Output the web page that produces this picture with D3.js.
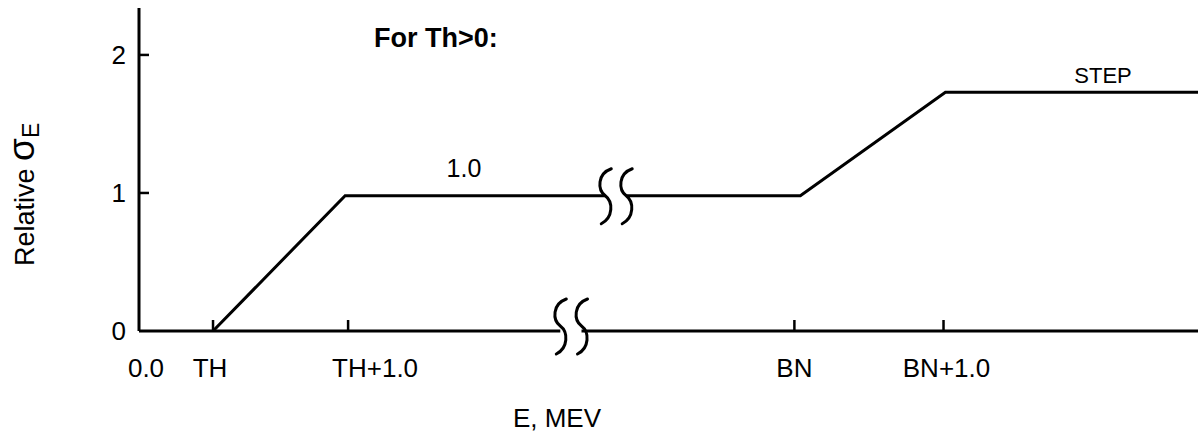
<!DOCTYPE html>
<html>
<head>
<meta charset="utf-8">
<script src="https://cdn.jsdelivr.net/npm/d3@7"></script>
<style>
  html, body { margin: 0; padding: 0; background: #fff; }
  svg { display: block; }
  text { font-family: "Liberation Sans", Arial, Helvetica, sans-serif; fill: #000; }
</style>
</head>
<body>
<svg id="chart" width="1198" height="434"></svg>
<script>
// ---- data (schematic energy units) ----
const xTickLabels = ["0.0", "TH", "TH+1.0", "BN", "BN+1.0"];
const xTickValues = [0, 0.548, 1.548, 4.852, 5.956];
const yTickValues = [0, 1, 2];
const seriesX = [0.548, 1.526, 4.896, 5.97, 7.84];
const seriesY = [0, 0.98, 0.98, 1.73, 1.73];
const axisBreak = [3.119, 3.276];     // break on the energy axis
const seriesBreak = [3.452, 3.607];   // break on the 1.0 plateau
const xDomain = [0, 7.84];
const yDomain = [0, 2.34];

const svg = d3.select("#chart");
const x = d3.scaleLinear().domain(xDomain).range([139, 1198]);
const y = d3.scaleLinear().domain(yDomain).range([331, 8]);

const ink = "#000";
const sw = 3;

// S-shaped break symbol
function breakPath(cx, cy) {
  return `M${cx+6},${cy-27} C${cx-8},${cy-22} ${cx-8},${cy-6} ${cx},${cy} ` +
         `C${cx+8},${cy+6} ${cx+8},${cy+22} ${cx-4},${cy+28}`;
}

// y axis
svg.append("line")
  .attr("x1", x(0)).attr("x2", x(0))
  .attr("y1", y(yDomain[1])).attr("y2", y(0))
  .attr("stroke", ink).attr("stroke-width", sw);

// y ticks (inward) and labels
yTickValues.forEach(v => {
  if (v > 0) {
    svg.append("line")
      .attr("x1", x(0)).attr("x2", x(0) + 10)
      .attr("y1", y(v)).attr("y2", y(v))
      .attr("stroke", ink).attr("stroke-width", 2.5);
  }
  svg.append("text")
    .attr("x", x(0) - 13).attr("y", y(v)).attr("dy", "0.36em")
    .attr("text-anchor", "end").attr("font-size", 26)
    .text(d3.format("d")(v));
});

// x axis with break
svg.append("line")
  .attr("x1", x(0)).attr("x2", x(axisBreak[0]))
  .attr("y1", y(0)).attr("y2", y(0))
  .attr("stroke", ink).attr("stroke-width", sw);
svg.append("line")
  .attr("x1", x(axisBreak[1])).attr("x2", x(xDomain[1]))
  .attr("y1", y(0)).attr("y2", y(0))
  .attr("stroke", ink).attr("stroke-width", sw);
axisBreak.forEach(b => {
  svg.append("path").attr("d", breakPath(x(b), y(0) - 5))
    .attr("fill", "none").attr("stroke", ink).attr("stroke-width", sw)
    .attr("stroke-linecap", "round");
});

// x ticks (inward, skip origin) and labels
const labelDx = [7, -3, 27, 0, 3];
xTickValues.forEach((v, i) => {
  if (v > 0) {
    svg.append("line")
      .attr("x1", x(v)).attr("x2", x(v))
      .attr("y1", y(0)).attr("y2", y(0) - 11)
      .attr("stroke", ink).attr("stroke-width", 2.5);
  }
  svg.append("text")
    .attr("x", x(v) + labelDx[i]).attr("y", 377)
    .attr("text-anchor", "middle").attr("font-size", 26)
    .text(xTickLabels[i]);
});

// series with break on the plateau
function interp(xv) {
  for (let i = 0; i < seriesX.length - 1; i++) {
    if (xv >= seriesX[i] && xv <= seriesX[i+1]) {
      const t = (xv - seriesX[i]) / (seriesX[i+1] - seriesX[i]);
      return seriesY[i] + t * (seriesY[i+1] - seriesY[i]);
    }
  }
  return NaN;
}
const pts = seriesX.map((v, i) => ({x: v, y: seriesY[i]}));
const withBreak = [];
pts.forEach(p => {
  if (p.x > seriesBreak[0] && withBreak.length && withBreak[withBreak.length-1].x < seriesBreak[0]) {
    withBreak.push({x: seriesBreak[0], y: interp(seriesBreak[0])});
    withBreak.push({x: NaN, y: NaN});
    withBreak.push({x: seriesBreak[1], y: interp(seriesBreak[1])});
  }
  withBreak.push(p);
});
const line = d3.line().defined(d => !isNaN(d.x)).x(d => x(d.x)).y(d => y(d.y));
svg.append("path").datum(withBreak).attr("d", line)
  .attr("fill", "none").attr("stroke", ink).attr("stroke-width", sw)
  .attr("stroke-linejoin", "miter");
seriesBreak.forEach(b => {
  svg.append("path").attr("d", breakPath(x(b), y(interp(b))))
    .attr("fill", "none").attr("stroke", ink).attr("stroke-width", sw)
    .attr("stroke-linecap", "round");
});

// annotations
svg.append("text").attr("x", 374).attr("y", 47)
  .attr("font-size", 27).attr("font-weight", "bold").text("For Th>0:");
svg.append("text").attr("x", 464).attr("y", 177)
  .attr("text-anchor", "middle").attr("font-size", 25).text("1.0");
svg.append("text").attr("x", 1103).attr("y", 83)
  .attr("text-anchor", "middle").attr("font-size", 22).text("STEP");

// axis titles
svg.append("text").attr("x", 557).attr("y", 427)
  .attr("text-anchor", "middle").attr("font-size", 26).text("E, MEV");

const yl = svg.append("text")
  .attr("transform", "translate(34,266) rotate(-90)")
  .attr("font-size", 27);
yl.append("tspan").text("Relative ");
yl.append("tspan").attr("font-size", 37).text("σ");
yl.append("tspan").attr("font-size", 23).attr("dy", 5).text("E");
</script>
</body>
</html>
